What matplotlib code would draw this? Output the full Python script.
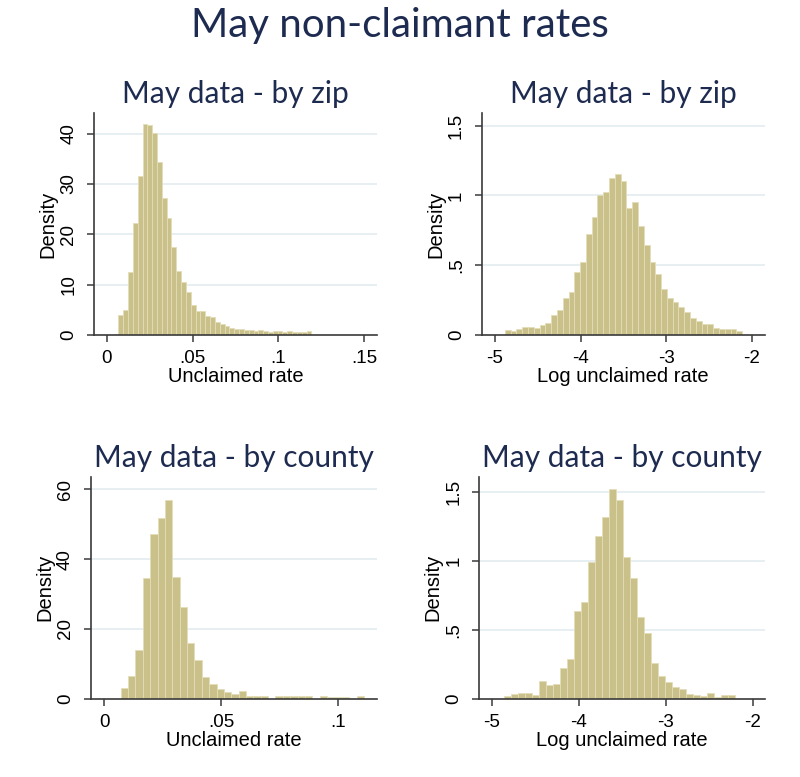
import matplotlib
matplotlib.use("Agg")
import matplotlib.pyplot as plt
import numpy as np

# --- data ---
# zip level, unclaimed rate (40 bins)
zip_rate_start = 0.0068
zip_rate_width = 0.00281
zip_rate_density = [4.0, 5.0, 12.5, 22.2, 31.5, 42.0, 41.7, 40.2, 34.4, 27.2,
                    23.2, 17.5, 12.7, 10.6, 8.5, 6.0, 4.8, 4.8, 3.8, 3.5,
                    2.5, 2.2, 1.7, 1.3, 1.2, 1.2, 1.0, 1.0, 0.8, 1.0,
                    0.8, 0.6, 0.8, 0.8, 0.5, 0.8, 0.6, 0.5, 0.5, 0.8]

# zip level, log unclaimed rate (41 bins)
zip_log_start = -4.883
zip_log_width = 0.06757
zip_log_density = [0.036, 0.029, 0.045, 0.055, 0.055, 0.052, 0.072, 0.088, 0.143, 0.179,
                   0.267, 0.305, 0.449, 0.520, 0.721, 0.847, 1.002, 1.024, 1.122, 1.153,
                   1.100, 0.912, 0.952, 0.780, 0.644, 0.525, 0.434, 0.332, 0.265, 0.239,
                   0.203, 0.162, 0.119, 0.100, 0.076, 0.079, 0.048, 0.041, 0.041, 0.041,
                   0.031]

# county level, unclaimed rate (33 bins)
cty_rate_start = 0.00698
cty_rate_width = 0.003151
cty_rate_density = [3.2, 6.5, 13.9, 34.6, 47.2, 51.9, 56.9, 34.9, 26.4, 16.0,
                    11.1, 6.1, 4.2, 2.8, 2.0, 1.3, 2.2, 0.7, 0.7, 0.7,
                    0.0, 0.7, 0.7, 0.7, 0.7, 0.7, 0.0, 0.7, 0.35, 0.35,
                    0.35, 0.0, 0.7]

# county level, log unclaimed rate (33 bins)
cty_log_start = -4.858
cty_log_width = 0.08032
cty_log_density = [0.019, 0.031, 0.044, 0.044, 0.024, 0.126, 0.099, 0.107, 0.225, 0.288,
                   0.637, 0.700, 0.996, 1.185, 1.323, 1.524, 1.444, 1.032, 0.875, 0.596,
                   0.475, 0.257, 0.165, 0.119, 0.082, 0.070, 0.036, 0.027, 0.019, 0.044,
                   0.015, 0.027, 0.027]

rate_xticks_zip = [0, 0.05, 0.1, 0.15]
rate_xlabels_zip = ["0", ".05", ".1", ".15"]
rate_xticks_cty = [0, 0.05, 0.1]
rate_xlabels_cty = ["0", ".05", ".1"]
log_xticks = [-5, -4, -3, -2]
log_xlabels = ["-5", "-4", "-3", "-2"]
yticks_zip_rate = [0, 10, 20, 30, 40]
yticks_cty_rate = [0, 20, 40, 60]
yticks_log = [0, 0.5, 1, 1.5]
ylabels_log = ["0", ".5", "1", "1.5"]

main_title = "May non-claimant rates"
title_zip = "May data - by zip"
title_cty = "May data - by county"

# --- styling ---
navy = "#1e2b50"
bar_face = "#c9c08a"
bar_edge = "#e3ddb8"
axis_col = "#3a3a3a"
grid_col = "#e3ecf0"
tick_font = "Liberation Sans"
title_font = "Lato"

fig = plt.figure(figsize=(8, 7.77), dpi=100)

fig.text(0.5, 1 - 26 / 777, main_title, ha="center", va="center",
         fontsize=29, color=navy, family=title_font)


def panel(rect, start, width, dens, xticks, xlabels, xlim, yticks, ylabels, ylim,
          title, xlabel):
    ax = fig.add_axes(rect)
    edges = start + width * np.arange(len(dens))
    ax.bar(edges, dens, width=width, align="edge", color=bar_face,
           edgecolor=bar_edge, linewidth=0.6, zorder=2)
    ax.set_xlim(*xlim)
    ax.set_ylim(*ylim)
    ax.set_xticks(xticks)
    ax.set_xticklabels(xlabels)
    ax.set_yticks(yticks)
    ax.set_yticklabels(ylabels, rotation=90, va="center")
    for y in yticks[1:]:
        ax.axhline(y, color=grid_col, linewidth=1.2, zorder=1)
    for s in ["top", "right"]:
        ax.spines[s].set_visible(False)
    for s in ["left", "bottom"]:
        ax.spines[s].set_color(axis_col)
        ax.spines[s].set_linewidth(1.2)
    ax.tick_params(axis="both", colors=axis_col, length=5, width=1.1,
                   labelsize=13.5, labelcolor="black")
    ax.tick_params(axis="y", pad=7)
    ax.tick_params(axis="x", pad=6)
    for lab in ax.get_xticklabels() + ax.get_yticklabels():
        lab.set_family(tick_font)
    ax.set_ylabel("Density", fontsize=14.5, family=tick_font, labelpad=2)
    ax.set_xlabel(xlabel, fontsize=14.5, family=tick_font, labelpad=0)
    ax.set_title(title, fontsize=21.5, color=navy, family=title_font, pad=7)
    return ax


panel([0.1175, 0.5689, 0.354, 0.2857], zip_rate_start, zip_rate_width, zip_rate_density,
      rate_xticks_zip, rate_xlabels_zip, (-0.0074, 0.1575),
      yticks_zip_rate, [str(v) for v in yticks_zip_rate], (0, 44.1),
      title_zip, "Unclaimed rate")

panel([0.602, 0.5689, 0.354, 0.2857], zip_log_start, zip_log_width, zip_log_density,
      log_xticks, log_xlabels, (-5.155, -1.848),
      yticks_log, ylabels_log, (0, 1.59),
      title_zip, "Log unclaimed rate")

panel([0.1134, 0.1008, 0.3575, 0.2857], cty_rate_start, cty_rate_width, cty_rate_density,
      rate_xticks_cty, rate_xlabels_cty, (-0.0058, 0.1164),
      yticks_cty_rate, [str(v) for v in yticks_cty_rate], (0, 63.6),
      title_cty, "Unclaimed rate")

panel([0.599, 0.1008, 0.3575, 0.2857], cty_log_start, cty_log_width, cty_log_density,
      log_xticks, log_xlabels, (-5.146, -1.855),
      yticks_log, ylabels_log, (0, 1.613),
      title_cty, "Log unclaimed rate")

fig.savefig("out.png", dpi=100, facecolor="white")
